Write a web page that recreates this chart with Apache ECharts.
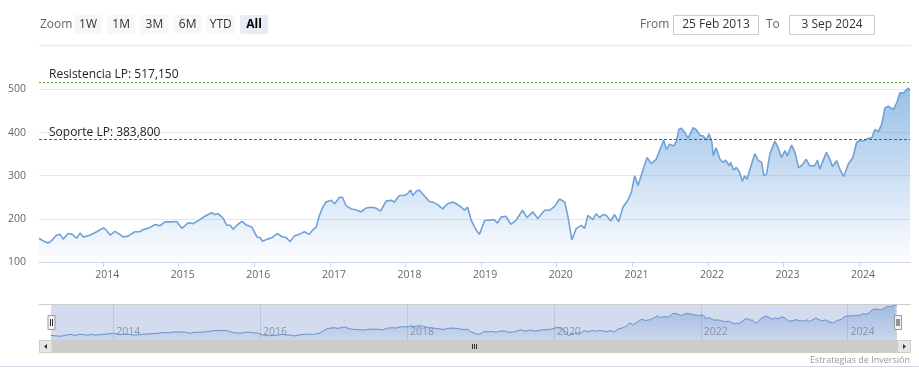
<!DOCTYPE html>
<html><head><meta charset="utf-8">
<script src="https://cdn.jsdelivr.net/npm/echarts@6/dist/echarts.min.js"></script>
<style>html,body{margin:0;padding:0;background:#fff}#c{width:919px;height:382px}</style>
</head><body><div id="c"></div>
<script>
const dates = ['2013-02-25','2013-03-16','2013-04-10','2013-04-26','2013-05-20','2013-06-06','2013-06-22','2013-07-15','2013-08-04','2013-08-26','2013-09-11','2013-09-27','2013-10-29','2013-12-01',
'2014-01-02','2014-01-14','2014-02-04','2014-02-27','2014-03-22','2014-04-08','2014-05-01','2014-06-04','2014-06-27','2014-07-13','2014-08-07','2014-09-09','2014-10-02','2014-10-27','2014-11-29','2014-12-22',
'2015-01-16','2015-02-17','2015-03-11','2015-04-13','2015-05-07','2015-06-09','2015-06-25','2015-07-10','2015-08-04','2015-08-21','2015-09-06','2015-09-22','2015-10-08','2015-11-02','2015-11-26','2015-12-20',
'2016-01-14','2016-01-30','2016-02-10','2016-03-04','2016-03-28','2016-04-21','2016-05-16','2016-06-02','2016-06-22','2016-07-12','2016-08-05','2016-08-30','2016-09-23','2016-10-09','2016-10-26','2016-11-11','2016-11-27','2016-12-13',
'2017-01-07','2017-01-23','2017-02-16','2017-03-02','2017-03-19','2017-04-12','2017-05-06','2017-05-30','2017-06-24','2017-07-18','2017-08-11','2017-09-02','2017-09-29','2017-10-23','2017-11-08','2017-12-02','2017-12-26',
'2018-01-12','2018-01-25','2018-02-05','2018-02-22','2018-03-08','2018-03-24','2018-04-10','2018-04-26','2018-05-11','2018-06-05','2018-06-29','2018-07-23','2018-08-17','2018-09-03','2018-09-27','2018-10-12','2018-10-28','2018-11-14','2018-12-08','2018-12-24',
'2019-01-18','2019-02-11','2019-03-05','2019-03-21','2019-04-07','2019-05-01','2019-05-25','2019-06-19','2019-07-20','2019-08-11','2019-09-08','2019-10-02','2019-11-04','2019-11-28','2019-12-22',
'2020-01-15','2020-02-09','2020-02-25','2020-03-14','2020-04-05','2020-04-29','2020-05-15','2020-05-31','2020-06-24','2020-07-10','2020-07-26','2020-08-12','2020-08-28','2020-09-18','2020-10-07','2020-10-26','2020-11-16','2020-12-10','2020-12-27',
'2021-01-12','2021-01-28','2021-02-22','2021-03-13','2021-04-02','2021-04-26','2021-05-12','2021-06-01','2021-06-14','2021-06-30','2021-07-20','2021-08-02','2021-08-13','2021-08-26','2021-09-11','2021-09-27','2021-10-21','2021-11-07','2021-11-23','2021-12-09','2021-12-25',
'2022-01-06','2022-01-19','2022-01-27','2022-02-09','2022-02-28','2022-03-15','2022-03-28','2022-04-13','2022-04-20','2022-05-05','2022-05-18','2022-06-01','2022-06-16','2022-06-27','2022-07-08','2022-07-25','2022-08-15','2022-09-01','2022-09-17','2022-09-28','2022-10-11','2022-10-27','2022-11-20','2022-12-06','2022-12-22',
'2023-01-08','2023-01-19','2023-02-09','2023-02-25','2023-03-15','2023-04-05','2023-04-21','2023-05-07','2023-06-01','2023-06-14','2023-06-25','2023-07-11','2023-07-27','2023-08-13','2023-08-26','2023-09-14','2023-09-30','2023-10-19','2023-11-10','2023-12-01','2023-12-20',
'2024-01-06','2024-01-22','2024-02-15','2024-03-02','2024-03-18','2024-04-03','2024-04-19','2024-05-05','2024-05-21','2024-06-14','2024-07-01','2024-07-16','2024-08-02','2024-08-10','2024-08-26','2024-09-03'];
const values = [155,149,144,149,162,164,153,166,164,155,167,158,162,170,
179,175,162,171,164,158,160,170,170,175,178,187,184,193,193,194,
178,191,189,198,206,214,210,212,201,185,185,176,185,194,185,181,
158,156,148,153,157,166,158,157,147,160,164,170,164,174,181,208,227,239,
243,235,250,250,231,223,221,216,225,227,225,218,241,243,239,254,254,
259,267,254,264,267,258,249,240,239,233,223,235,239,235,227,220,227,197,174,164,
196,197,198,190,204,206,187,197,220,203,216,201,220,220,229,
246,239,204,151,178,185,178,208,198,212,203,210,208,195,210,193,227,243,262,
300,277,315,342,328,338,358,382,361,373,369,380,407,410,400,387,411,406,394,392,382,
397,380,346,365,338,331,336,323,331,313,319,310,287,300,292,318,351,335,331,300,304,350,380,365,342,
358,346,371,354,318,327,338,323,323,336,315,335,354,338,321,335,315,298,327,341,377,
382,380,387,388,407,402,419,457,461,453,469,492,492,488,503,497];
const yTicks = [100,200,300,400,500];
const mainYears = [2014,2015,2016,2017,2018,2019,2020,2021,2022,2023,2024];
const navYears = [2014,2016,2018,2020,2022,2024];
const levelValues = [517.15, 383.8];
const levelLabels = ['Resistencia LP: 517,150','Soporte LP: 383,800'];
const levelColors = ['#5fa83a','#c0302c'];
const levelTypes = [[2,2],[3,2]];
const rangeButtons = ['1W','1M','3M','6M','YTD','All'];
const selectedButton = 'All';
const fromLabel = '25 Feb 2013', toLabel = '3 Sep 2024';
const creditText = 'Estrategias de Inversión';

function ts(s){const p=s.split('-').map(Number);return new Date(p[0],p[1]-1,p[2]).getTime();}
const yearTs = y => new Date(y,0,1).getTime();
const data = dates.map((d,i)=>[ts(d), values[i]]);
const xMin = ts(dates[0]), xMax = ts(dates[dates.length-1]);
const FONT = "'Open Sans', sans-serif";
const yearFmt = v => String(new Date(v + 12*3600*1000).getFullYear());

const chart = echarts.init(document.getElementById('c'), null, {renderer:'canvas'});

const graphics = [];
graphics.push({type:'text', x:40, y:24.5, style:{text:'Zoom', fill:'#666', font:'12px '+FONT, verticalAlign:'middle'}});
rangeButtons.forEach((b,i)=>{
  const x = 74 + i*33.2;
  const sel = b===selectedButton;
  graphics.push({type:'rect', shape:{x:x, y:15, width:28, height:19, r:2}, style:{fill: sel?'#e6ebf5':'#f7f7f7'}});
  graphics.push({type:'text', x:x+14, y:24.5, style:{text:b, fill: sel?'#000':'#333', font:(sel?'bold ':'')+'12px '+FONT, align:'center', verticalAlign:'middle'}});
});
graphics.push({type:'line', shape:{x1:39, y1:45.5, x2:911, y2:45.5}, style:{stroke:'#ececec', lineWidth:1.5}});
graphics.push({type:'text', x:640, y:24.5, style:{text:'From', fill:'#666', font:'12px '+FONT, verticalAlign:'middle'}});
graphics.push({type:'rect', shape:{x:673.5, y:15.5, width:85, height:19}, style:{fill:'#fff', stroke:'#cccccc', lineWidth:1}});
graphics.push({type:'text', x:716, y:24.5, style:{text:fromLabel, fill:'#333', font:'12px '+FONT, align:'center', verticalAlign:'middle'}});
graphics.push({type:'text', x:766, y:24.5, style:{text:'To', fill:'#666', font:'12px '+FONT, verticalAlign:'middle'}});
graphics.push({type:'rect', shape:{x:789.5, y:15.5, width:85, height:19}, style:{fill:'#fff', stroke:'#cccccc', lineWidth:1}});
graphics.push({type:'text', x:832, y:24.5, style:{text:toLabel, fill:'#333', font:'12px '+FONT, align:'center', verticalAlign:'middle'}});
graphics.push({type:'line', z:100, shape:{x1:39, y1:304.5, x2:911, y2:304.5}, style:{stroke:'#cccccc', lineWidth:1}});
[51.5, 898].forEach(cx=>{
  graphics.push({type:'rect', z:101, shape:{x:cx-3.5, y:315.5, width:7, height:14}, style:{fill:'#f2f2f2', stroke:'#999', lineWidth:1}});
  graphics.push({type:'line', z:102, shape:{x1:cx-1, y1:319, x2:cx-1, y2:326}, style:{stroke:'#333', lineWidth:1}});
  graphics.push({type:'line', z:102, shape:{x1:cx+1, y1:319, x2:cx+1, y2:326}, style:{stroke:'#333', lineWidth:1}});
});
graphics.push({type:'rect', z:100, shape:{x:39, y:340, width:872, height:13}, style:{fill:'#f2f2f2'}});
graphics.push({type:'rect', z:100, shape:{x:52, y:340, width:845, height:13}, style:{fill:'#cccccc'}});
graphics.push({type:'rect', z:100, shape:{x:39.5, y:340.5, width:12.5, height:12}, style:{fill:'#e6e6e6', stroke:'#cccccc'}});
graphics.push({type:'rect', z:100, shape:{x:897.5, y:340.5, width:13, height:12}, style:{fill:'#e6e6e6', stroke:'#cccccc'}});
graphics.push({type:'polygon', z:101, shape:{points:[[44,346.5],[47,344],[47,349]]}, style:{fill:'#333'}});
graphics.push({type:'polygon', z:101, shape:{points:[[906,346.5],[903,344],[903,349]]}, style:{fill:'#333'}});
[472.5,474.5,476.5].forEach(gx=>graphics.push({type:'line', z:101, shape:{x1:gx, y1:344, x2:gx, y2:349}, style:{stroke:'#333', lineWidth:1}}));
graphics.push({type:'text', x:910, y:360, style:{text:creditText, fill:'#999', font:'9px '+FONT, align:'right', verticalAlign:'middle'}});
graphics.push({type:'line', shape:{x1:0, y1:366.5, x2:919, y2:366.5}, style:{stroke:'#d6d6e6', lineWidth:1}});

const levelSeries = levelValues.map((v,i)=>({
  type:'line', xAxisIndex:0, yAxisIndex:0, data:[], symbol:'none', z:5,
  markLine:{silent:true, symbol:['none','none'], animation:false,
    lineStyle:{color:levelColors[i], type:levelTypes[i], width:1, opacity:1},
    label:{show:true, formatter:levelLabels[i], position:'insideStartTop', distance:[10,1], color:'#222', fontSize:12, fontFamily:FONT},
    emphasis:{disabled:true},
    data:[{yAxis:v}]}
}));

const option = {
  animation:false,
  textStyle:{fontFamily:FONT},
  grid:[
    {left:39, right:9, top:76, height:186, outerBoundsMode:'none', containLabel:false},
    {left:51, right:22, top:304, height:36, show:true, backgroundColor:'#d3dcee', borderWidth:0, outerBoundsMode:'none', containLabel:false}
  ],
  xAxis:[
    {type:'value', gridIndex:0, min:xMin, max:xMax, scale:true,
     axisLine:{show:true, onZero:false, lineStyle:{color:'#ccd6eb', width:1}},
     axisTick:{show:true, customValues:mainYears.map(yearTs), length:5, lineStyle:{color:'#ccd6eb'}},
     axisLabel:{customValues:mainYears.map(yearTs), formatter:yearFmt, color:'#666', fontSize:10.5, margin:8, padding:[0,0,0,8]},
     splitLine:{show:false}},
    {type:'value', gridIndex:1, min:xMin, max:xMax, scale:true,
     axisLine:{show:false, onZero:false},
     axisTick:{show:true, inside:true, customValues:navYears.map(yearTs), length:36, lineStyle:{color:'rgba(120,130,150,0.25)'}},
     axisLabel:{show:true, inside:true, customValues:navYears.map(yearTs), formatter:yearFmt, color:'#8c94a3', fontSize:10.5, align:'left', padding:[0,0,0,3], margin:2},
     splitLine:{show:false}}
  ],
  yAxis:[
    {type:'value', gridIndex:0, min:yTicks[0], max:531, interval:100,
     axisLine:{show:false}, axisTick:{show:false},
     axisLabel:{color:'#666', fontSize:10.5, margin:13, showMaxLabel:false, padding:[0,0,8,0]},
     splitLine:{show:true, showMinLine:false, showMaxLine:false, lineStyle:{color:'#e6e6e6'}}},
    {type:'value', gridIndex:1, min:100, max:520, show:false, splitLine:{show:false}}
  ],
  series:[
    {type:'line', xAxisIndex:0, yAxisIndex:0, data:data, symbol:'none', smooth:false,
     lineStyle:{color:'#6fa2d8', width:1.6},
     areaStyle:{color:{type:'linear', x:0, y:0, x2:0, y2:1, colorStops:[{offset:0, color:'rgba(108,164,222,1)'},{offset:1, color:'rgba(108,164,222,0.02)'}]}}
    },
    {type:'line', xAxisIndex:1, yAxisIndex:1, data:data, symbol:'none',
     lineStyle:{color:'#6a90cc', width:1},
     areaStyle:{color:{type:'linear', x:0, y:0, x2:0, y2:1, colorStops:[{offset:0, color:'rgba(95,140,210,0.6)'},{offset:1, color:'rgba(95,140,210,0.1)'}]}}
    }
  ].concat(levelSeries),
  graphic: graphics
};
chart.setOption(option);
</script>
</body></html>
